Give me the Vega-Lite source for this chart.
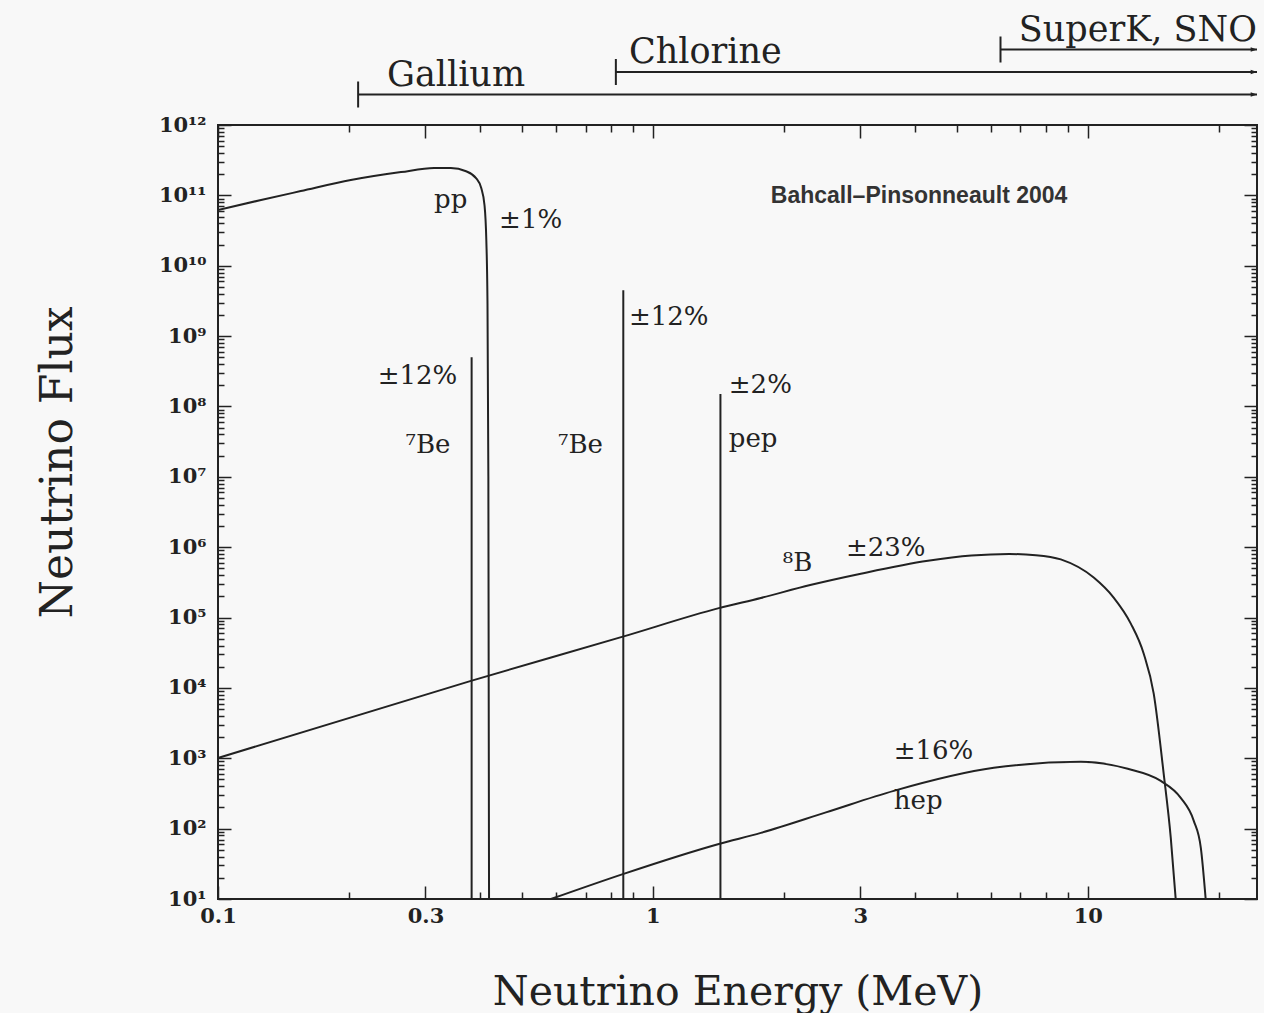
{
  "$schema": "https://vega.github.io/schema/vega-lite/v6.json",
  "background": "#f8f8f8",
  "padding": {"left": 35, "top": 12, "right": 5, "bottom": 0},
  "autosize": {"type": "pad"},
  "bounds": "flush",
  "spacing": 8,
  "config": {"view": {"stroke": null}, "font": "DejaVu Serif"},
  "datasets": {
    "detectors": [
      {"detector": "Gallium", "threshold": 0.21, "labelE": 0.2446},
      {"detector": "Chlorine", "threshold": 0.822, "labelE": 0.881},
      {"detector": "SuperK, SNO", "threshold": 6.3, "labelE": 6.94}
    ],
    "spectra": [
      {"series": "pp", "E": 0.1, "F": 6.2e10},
      {"series": "pp", "E": 0.1256, "F": 8.6e10},
      {"series": "pp", "E": 0.155, "F": 1.15e11},
      {"series": "pp", "E": 0.202, "F": 1.65e11},
      {"series": "pp", "E": 0.2635, "F": 2.14e11},
      {"series": "pp", "E": 0.314, "F": 2.44e11},
      {"series": "pp", "E": 0.343, "F": 2.44e11},
      {"series": "pp", "E": 0.372, "F": 2.2e11},
      {"series": "pp", "E": 0.392, "F": 1.76e11},
      {"series": "pp", "E": 0.403, "F": 1.27e11},
      {"series": "pp", "E": 0.41, "F": 7.3e10},
      {"series": "pp", "E": 0.414, "F": 2.3e10},
      {"series": "pp", "E": 0.4165, "F": 3.2e9},
      {"series": "pp", "E": 0.4185, "F": 1e7},
      {"series": "pp", "E": 0.42, "F": 10},
      {"series": "8B", "E": 0.1, "F": 1010},
      {"series": "8B", "E": 0.3817, "F": 12600},
      {"series": "8B", "E": 0.853, "F": 53500},
      {"series": "8B", "E": 1.418, "F": 136000},
      {"series": "8B", "E": 1.771, "F": 190000},
      {"series": "8B", "E": 2.3, "F": 290000},
      {"series": "8B", "E": 3.007, "F": 420000},
      {"series": "8B", "E": 4.29, "F": 640000},
      {"series": "8B", "E": 5.4, "F": 760000},
      {"series": "8B", "E": 6.6, "F": 800000},
      {"series": "8B", "E": 7.6, "F": 770000},
      {"series": "8B", "E": 8.67, "F": 670000},
      {"series": "8B", "E": 10.32, "F": 370000},
      {"series": "8B", "E": 11.47, "F": 192000},
      {"series": "8B", "E": 12.56, "F": 82000},
      {"series": "8B", "E": 13.45, "F": 30600},
      {"series": "8B", "E": 14.18, "F": 8300},
      {"series": "8B", "E": 14.95, "F": 600},
      {"series": "8B", "E": 15.52, "F": 74},
      {"series": "8B", "E": 15.93, "F": 10},
      {"series": "hep", "E": 0.583, "F": 10},
      {"series": "hep", "E": 0.853, "F": 22.6},
      {"series": "hep", "E": 1.418, "F": 60.6},
      {"series": "hep", "E": 1.771, "F": 87},
      {"series": "hep", "E": 2.5, "F": 170},
      {"series": "hep", "E": 3.58, "F": 344},
      {"series": "hep", "E": 6.08, "F": 731},
      {"series": "hep", "E": 9.64, "F": 889},
      {"series": "hep", "E": 12.36, "F": 708},
      {"series": "hep", "E": 14.72, "F": 477},
      {"series": "hep", "E": 16.36, "F": 274},
      {"series": "hep", "E": 17.53, "F": 129},
      {"series": "hep", "E": 18.2, "F": 53},
      {"series": "hep", "E": 18.67, "F": 10}
    ],
    "lines": [
      {"source": "7Be", "E": 0.383, "F": 5.0e8},
      {"source": "7Be", "E": 0.855, "F": 4.5e9},
      {"source": "pep", "E": 1.43, "F": 1.5e8}
    ],
    "notes": [
      {"label": "pp", "E": 0.314, "F": 6.6e10},
      {"label": "±1%", "E": 0.443, "F": 3.4e10},
      {"label": "±12%", "E": 0.233, "F": 2.1e8},
      {"label": "⁷Be", "E": 0.27, "F": 2.15e7},
      {"label": "⁷Be", "E": 0.605, "F": 2.15e7},
      {"label": "±12%", "E": 0.881, "F": 1.43e9},
      {"label": "±2%", "E": 1.495, "F": 1.53e8},
      {"label": "pep", "E": 1.495, "F": 2.62e7},
      {"label": "⁸B", "E": 1.99, "F": 4.65e5},
      {"label": "±23%", "E": 2.78, "F": 7.6e5},
      {"label": "±16%", "E": 3.58, "F": 982},
      {"label": "hep", "E": 3.58, "F": 190}
    ],
    "credit": [
      {"label": "Bahcall–Pinsonneault 2004", "E": 1.867, "F": 7.76e10}
    ]
  },
  "vconcat": [
    {
      "width": 1039,
      "height": 90,
      "data": {"name": "detectors"},
      "encoding": {
        "y": {
          "field": "detector",
          "type": "nominal",
          "scale": {"type": "point", "domain": ["SuperK, SNO", "Chlorine", "Gallium"], "padding": 1},
          "axis": null
        }
      },
      "layer": [
        {
          "mark": {"type": "rule", "strokeWidth": 2, "color": "#222"},
          "encoding": {
            "x": {"field": "threshold", "type": "quantitative", "scale": {"type": "log", "domain": [0.1, 24.5], "nice": false}, "axis": null},
            "x2": {"datum": 24.5}
          }
        },
        {
          "mark": {"type": "tick", "size": 26, "thickness": 2, "color": "#222", "opacity": 1},
          "encoding": {
            "x": {"field": "threshold", "type": "quantitative", "axis": null}
          }
        },
        {
          "mark": {"type": "point", "shape": "M-2,-0.7L0,0L-2,0.7Z", "filled": true, "size": 40, "color": "#222", "opacity": 1},
          "encoding": {
            "x": {"datum": 24.5, "type": "quantitative", "axis": null}
          }
        },
        {
          "mark": {"type": "text", "align": "left", "baseline": "alphabetic", "dy": -9, "font": "DejaVu Serif", "fontSize": 35, "color": "#222"},
          "encoding": {
            "x": {"field": "labelE", "type": "quantitative", "axis": null},
            "text": {"field": "detector"}
          }
        }
      ]
    },
    {
      "width": 1039,
      "height": 774,
      "view": {"stroke": "#222", "strokeWidth": 2},
      "layer": [
        {
          "data": {"name": "spectra"},
          "mark": {"type": "line", "interpolate": "monotone", "strokeWidth": 2, "color": "#222", "clip": true},
          "encoding": {
            "x": {
              "field": "E",
              "type": "quantitative",
              "scale": {"type": "log", "domain": [0.1, 24.5], "nice": false},
              "axis": {
                "orient": "bottom",
                "values": [0.1, 0.2, 0.3, 0.4, 0.5, 0.6, 0.7, 0.8, 0.9, 1, 2, 3, 4, 5, 6, 7, 8, 9, 10, 20],
                "labelExpr": "indexof([0.1, 0.3, 1, 3, 10], datum.value) >= 0 ? format(datum.value, '~g') : ''",
                "tickSize": {"condition": {"test": "indexof([0.1, 0.3, 1, 3, 10], datum.value) >= 0", "value": -13}, "value": -7},
                "tickColor": "#222",
                "tickWidth": 1.5,
                "domain": false,
                "grid": false,
                "labelOverlap": false,
                "labelFlush": false,
                "labelFont": "DejaVu Serif",
                "labelFontSize": 21,
                "labelFontWeight": "bold",
                "labelColor": "#222",
                "labelPadding": 19,
                "title": "Neutrino Energy (MeV)",
                "titleFont": "DejaVu Serif",
                "titleFontSize": 41,
                "titleFontWeight": "normal",
                "titleColor": "#222",
                "titleBaseline": "alphabetic",
                "titleY": 105
              }
            },
            "y": {
              "field": "F",
              "type": "quantitative",
              "scale": {"type": "log", "domain": [10, 1e12], "nice": false},
              "axis": {
                "orient": "left",
                "values": [10, 20, 30, 40, 50, 60, 70, 80, 90, 100, 200, 300, 400, 500, 600, 700, 800, 900, 1000, 2000, 3000, 4000, 5000, 6000, 7000, 8000, 9000, 1e4, 2e4, 3e4, 4e4, 5e4, 6e4, 7e4, 8e4, 9e4, 1e5, 2e5, 3e5, 4e5, 5e5, 6e5, 7e5, 8e5, 9e5, 1e6, 2e6, 3e6, 4e6, 5e6, 6e6, 7e6, 8e6, 9e6, 1e7, 2e7, 3e7, 4e7, 5e7, 6e7, 7e7, 8e7, 9e7, 1e8, 2e8, 3e8, 4e8, 5e8, 6e8, 7e8, 8e8, 9e8, 1e9, 2e9, 3e9, 4e9, 5e9, 6e9, 7e9, 8e9, 9e9, 1e10, 2e10, 3e10, 4e10, 5e10, 6e10, 7e10, 8e10, 9e10, 1e11, 2e11, 3e11, 4e11, 5e11, 6e11, 7e11, 8e11, 9e11, 1e12],
                "labelExpr": "abs(log(datum.value)/LN10 - round(log(datum.value)/LN10)) < 0.001 ? '10' + ['⁰','¹','²','³','⁴','⁵','⁶','⁷','⁸','⁹','¹⁰','¹¹','¹²'][round(log(datum.value)/LN10)] : ''",
                "tickSize": {"condition": {"test": "abs(log(datum.value)/LN10 - round(log(datum.value)/LN10)) < 0.001", "value": -13}, "value": -6},
                "tickColor": "#222",
                "tickWidth": 1.5,
                "domain": false,
                "grid": false,
                "labelOverlap": false,
                "labelFlush": false,
                "labelFont": "DejaVu Serif",
                "labelFontSize": 21,
                "labelFontWeight": "bold",
                "labelColor": "#222",
                "labelPadding": 25,
                "title": "Neutrino Flux",
                "titleFont": "DejaVu Serif",
                "titleFontSize": 44,
                "titleFontWeight": "normal",
                "titleColor": "#222",
                "titleBaseline": "alphabetic",
                "titleAlign": "center",
                "titleAngle": -90,
                "titleX": -147,
                "titleY": 337
              }
            },
            "detail": {"field": "series", "type": "nominal"}
          }
        },
        {
          "data": {"name": "lines"},
          "mark": {"type": "rule", "strokeWidth": 2, "color": "#222"},
          "encoding": {
            "x": {"field": "E", "type": "quantitative", "axis": null},
            "y": {"field": "F", "type": "quantitative", "axis": null},
            "y2": {"datum": 10}
          }
        },
        {
          "data": {"name": "notes"},
          "mark": {"type": "text", "align": "left", "baseline": "alphabetic", "font": "DejaVu Serif", "fontSize": 26, "color": "#222"},
          "encoding": {
            "x": {
              "field": "E",
              "type": "quantitative",
              "axis": {
                "orient": "top",
                "values": [0.1, 0.2, 0.3, 0.4, 0.5, 0.6, 0.7, 0.8, 0.9, 1, 2, 3, 4, 5, 6, 7, 8, 9, 10, 20],
                "labels": false,
                "tickSize": {"condition": {"test": "indexof([0.1, 0.3, 1, 3, 10], datum.value) >= 0", "value": -13}, "value": -7},
                "tickColor": "#222",
                "tickWidth": 1.5,
                "domain": false,
                "grid": false,
                "title": null
              }
            },
            "y": {
              "field": "F",
              "type": "quantitative",
              "axis": {
                "orient": "right",
                "values": [10, 20, 30, 40, 50, 60, 70, 80, 90, 100, 200, 300, 400, 500, 600, 700, 800, 900, 1000, 2000, 3000, 4000, 5000, 6000, 7000, 8000, 9000, 1e4, 2e4, 3e4, 4e4, 5e4, 6e4, 7e4, 8e4, 9e4, 1e5, 2e5, 3e5, 4e5, 5e5, 6e5, 7e5, 8e5, 9e5, 1e6, 2e6, 3e6, 4e6, 5e6, 6e6, 7e6, 8e6, 9e6, 1e7, 2e7, 3e7, 4e7, 5e7, 6e7, 7e7, 8e7, 9e7, 1e8, 2e8, 3e8, 4e8, 5e8, 6e8, 7e8, 8e8, 9e8, 1e9, 2e9, 3e9, 4e9, 5e9, 6e9, 7e9, 8e9, 9e9, 1e10, 2e10, 3e10, 4e10, 5e10, 6e10, 7e10, 8e10, 9e10, 1e11, 2e11, 3e11, 4e11, 5e11, 6e11, 7e11, 8e11, 9e11, 1e12],
                "labels": false,
                "tickSize": {"condition": {"test": "abs(log(datum.value)/LN10 - round(log(datum.value)/LN10)) < 0.001", "value": -13}, "value": -6},
                "tickColor": "#222",
                "tickWidth": 1.5,
                "domain": false,
                "grid": false,
                "title": null
              }
            },
            "text": {"field": "label"}
          }
        },
        {
          "data": {"name": "credit"},
          "mark": {"type": "text", "align": "left", "baseline": "alphabetic", "font": "Liberation Sans", "fontWeight": "bold", "fontSize": 23, "color": "#333"},
          "encoding": {
            "x": {"field": "E", "type": "quantitative", "axis": null},
            "y": {"field": "F", "type": "quantitative", "axis": null},
            "text": {"field": "label"}
          }
        }
      ]
    }
  ]
}
